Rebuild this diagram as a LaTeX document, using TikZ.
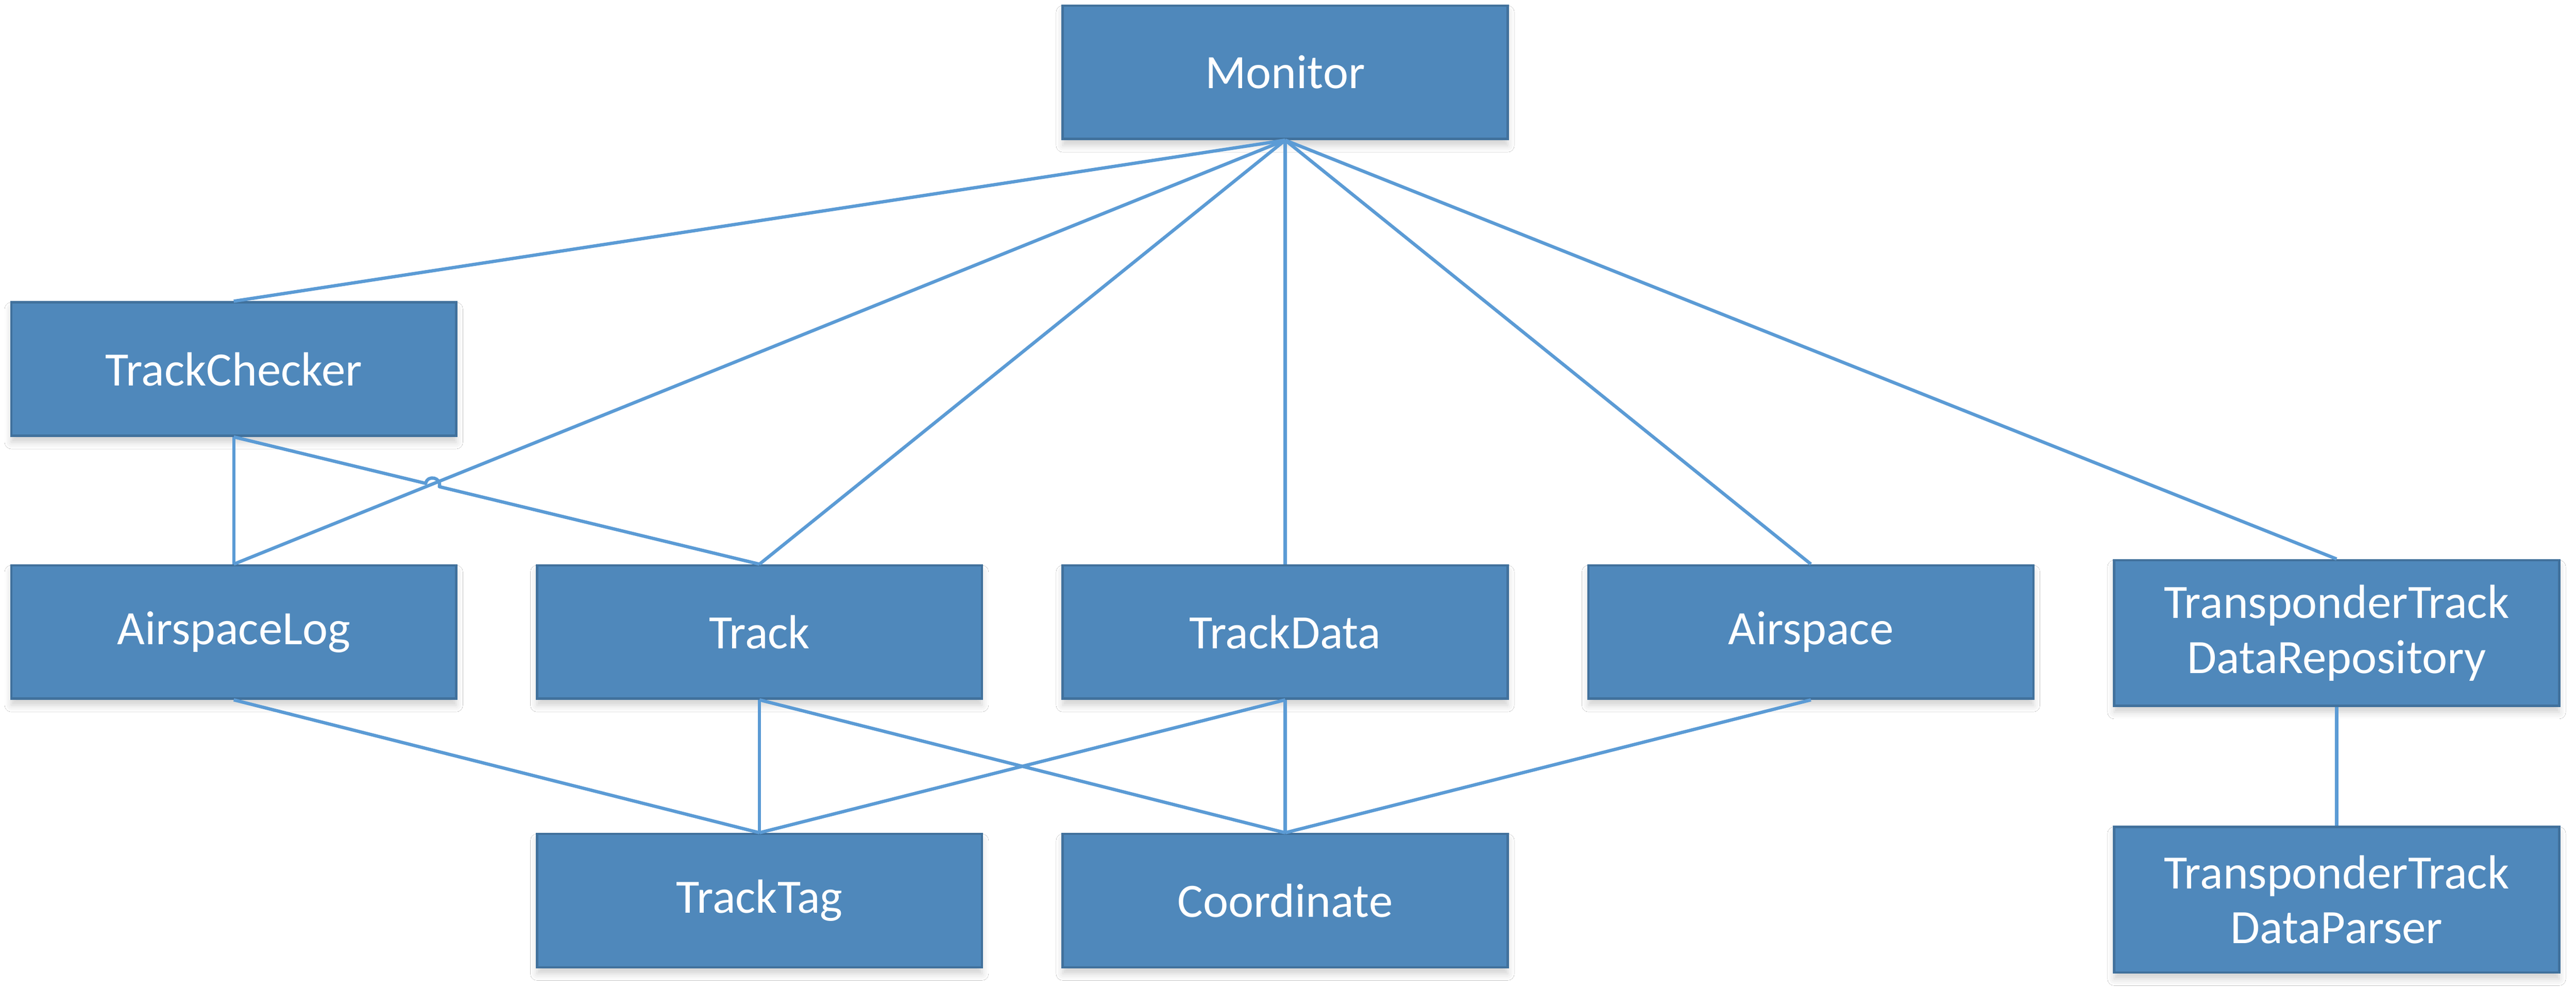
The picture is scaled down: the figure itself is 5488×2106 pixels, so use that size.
\documentclass[tikz,border=0pt]{standalone}
\usepackage{fontspec}
\setmainfont{Carlito}
\usetikzlibrary{calc,shadows.blur}
\definecolor{boxfill}{HTML}{4F88BB}
\definecolor{boxline}{HTML}{41719C}
\definecolor{conn}{HTML}{5B9BD5}
\tikzset{
  cls/.style={rectangle, fill=boxfill, draw=boxline, line width=5pt,
    minimum width=948pt, minimum height=284pt, inner sep=0pt,
    text=white, align=center, font=\fontsize{102}{117}\selectfont,
    blur shadow={shadow xshift=0pt, shadow yshift=-14pt, shadow blur radius=14pt, shadow opacity=18}},
  tall/.style={minimum height=310pt},
  link/.style={draw=conn, line width=7pt}
}
\begin{document}
\begin{tikzpicture}[x=1pt,y=-1pt]
\useasboundingbox[fill=white] (0,0) rectangle (5488,2106);
\node[cls] (mon) at (2738,154) {Monitor};
\node[cls] (tc) at (498,786) {TrackChecker};
\node[cls] (al) at (498,1346) {AirspaceLog};
\node[cls] (tr) at (1618,1346) {Track};
\node[cls] (td) at (2738,1346) {TrackData};
\node[cls] (as) at (3858,1346) {Airspace};
\node[cls,tall] (rep) at (4978,1348) {TransponderTrack\\DataRepository};
\node[cls] (tt) at (1618,1918) {TrackTag};
\node[cls] (co) at (2738,1918) {Coordinate};
\node[cls,tall] (par) at (4978,1916) {TransponderTrack\\DataParser};
% connectors
\draw[link] (mon.south) -- (tc.north);
\draw[link] (mon.south) -- (al.north);
\draw[link] (mon.south) -- (tr.north);
\draw[link] (mon.south) -- (td.north);
\draw[link] (mon.south) -- (as.north);
\draw[link] (mon.south) -- (rep.north);
\draw[link] (tc.south) -- (al.north);
\coordinate (hA) at ($(tc.south)!0.365!(tr.north)$);
\coordinate (hB) at ($(tc.south)!0.391!(tr.north)$);
\draw[link,line join=round] (tc.south) -- (hA) .. controls ($(hA)+(4.8,-19.4)$) and ($(hB)+(4.8,-19.4)$) .. (hB) -- (tr.north);
\draw[link] (al.south) -- (tt.north);
\draw[link] (tr.south) -- (tt.north);
\draw[link] (tr.south) -- (co.north);
\draw[link] (td.south) -- (tt.north);
\draw[link] (td.south) -- (co.north);
\draw[link] (as.south) -- (co.north);
\draw[link] (rep.south) -- (par.north);
\end{tikzpicture}
\end{document}
